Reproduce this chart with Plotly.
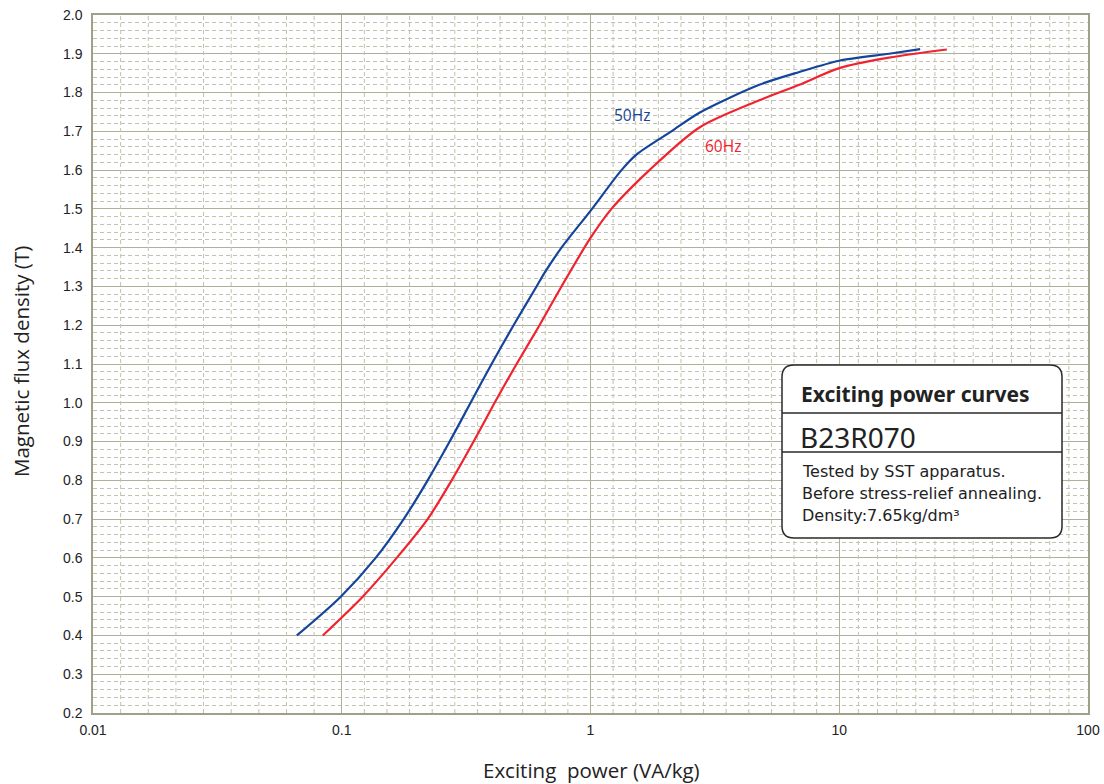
import numpy as np
import plotly.graph_objects as go

# ---- data ----
b_50 = [0.40, 0.50, 0.60, 0.70, 0.80, 0.90, 1.00, 1.10, 1.20, 1.30, 1.335, 1.40, 1.495, 1.60, 1.64, 1.70, 1.748, 1.82, 1.853, 1.882, 1.90, 1.912]
p_50 = [0.0660, 0.0991, 0.1369, 0.1774, 0.2215, 0.2715, 0.3296, 0.4003, 0.4906, 0.6069, 0.6535, 0.7646, 1.00, 1.332, 1.530, 2.115, 2.741, 4.77, 6.91, 10.0, 15.85, 21.15]

b_60 = [0.40, 0.50, 0.60, 0.70, 0.80, 0.90, 1.00, 1.10, 1.20, 1.30, 1.425, 1.50, 1.60, 1.71, 1.78, 1.82, 1.863, 1.89, 1.911]
p_60 = [0.0839, 0.1214, 0.1663, 0.2215, 0.2766, 0.3389, 0.4116, 0.5045, 0.6239, 0.7646, 1.00, 1.214, 1.726, 2.741, 4.77, 6.91, 10.0, 15.85, 27.07]

x_tick_vals = [0.01, 0.1, 1, 10, 100]
x_tick_text = ["0.01", "0.1", "1", "10", "100"]
y_tick_vals = [0.2, 0.3, 0.4, 0.5, 0.6, 0.7, 0.8, 0.9, 1.0, 1.1, 1.2, 1.3, 1.4, 1.5, 1.6, 1.7, 1.8, 1.9, 2.0]
y_tick_text = [f"{v:.1f}" for v in y_tick_vals]

# decorative subdivisions of each decade (as drawn on the original sheet)
decade_starts = [-2, -1, 0, 1]
decade_divs = [9, 11, 11, 13]

MAJOR = "#b0b098"
MINOR = "#c2c2ae"
BLUE = "#15459b"
RED = "#f0232f"

fig = go.Figure()

# minor vertical dashed grid lines
gx, gy = [], []
for s, n in zip(decade_starts, decade_divs):
    for k in range(1, n):
        xv = 10 ** (s + k / n)
        gx += [xv, xv, None]
        gy += [0.2, 2.0, None]
fig.add_trace(go.Scatter(x=gx, y=gy, mode="lines", hoverinfo="skip", showlegend=False,
                         line=dict(color=MINOR, width=1, dash="4px,3px")))

fig.add_trace(go.Scatter(x=p_50, y=b_50, mode="lines", name="50Hz", showlegend=False,
                         line=dict(color=BLUE, width=2.2, shape="spline", smoothing=0.8)))
fig.add_trace(go.Scatter(x=p_60, y=b_60, mode="lines", name="60Hz", showlegend=False,
                         line=dict(color=RED, width=2.2, shape="spline", smoothing=0.8)))

W, H = 1104, 784
L, R, T, B = 93, 16, 15, 71
pw, ph = W - L - R, H - T - B


def px(x):
    return (x - L) / pw


def py(y):
    return (H - B - y) / ph


fig.update_layout(
    width=W, height=H,
    margin=dict(l=L, r=R, t=T, b=B, autoexpand=False),
    paper_bgcolor="white", plot_bgcolor="white",
    showlegend=False,
    font=dict(family="Liberation Sans, Arial", size=14, color="#222"),
    xaxis=dict(type="log", range=[-2, 2], tickvals=x_tick_vals, ticktext=x_tick_text,
               showgrid=True, gridcolor=MAJOR, gridwidth=1.3, zeroline=False,
               showline=True, linecolor="#a0a088", linewidth=1.5, mirror=True, automargin=False,
               ticklabeloverflow="allow",
               ticks="", ticklabelstandoff=3, tickfont=dict(size=14, color="#222")),
    yaxis=dict(range=[0.2, 2.0], tickvals=y_tick_vals, ticktext=y_tick_text,
               showgrid=True, gridcolor=MAJOR, gridwidth=1.3, zeroline=False,
               showline=True, linecolor="#a0a088", linewidth=1.5, mirror=True, automargin=False,
               ticklabeloverflow="allow",
               ticks="", ticklabelstandoff=6, tickfont=dict(size=14, color="#222"),
               minor=dict(dtick=0.02, tick0=0.2, showgrid=True, gridcolor=MINOR,
                          griddash="4px,3px", gridwidth=1)),
)

TITLE_FONT = "Open Sans, Noto Sans, sans-serif"
annots = [
    dict(x=px(21), y=py(362), text="Magnetic flux density (T)", textangle=-90,
         font=dict(family=TITLE_FONT, size=20.5, color="#222")),
    dict(x=px(591), y=py(770), text="Exciting\u00a0 power (VA/kg)",
         font=dict(family=TITLE_FONT, size=20.5, color="#222")),
    dict(x=px(632), y=py(115), text="50Hz", font=dict(family=TITLE_FONT, size=15.5, color=BLUE)),
    dict(x=px(723), y=py(146), text="60Hz", font=dict(family=TITLE_FONT, size=15.5, color=RED)),
]
for a in annots:
    a.update(xref="paper", yref="paper", showarrow=False, xanchor="center", yanchor="middle")
    fig.add_annotation(**a)

# info box
bx0, bx1, by0, by1 = 782, 1062, 365, 538
r = 12
rx, ry = r / pw, r / ph
X0, X1, Y0, Y1 = px(bx0), px(bx1), py(by1), py(by0)
path = (f"M {X0+rx},{Y1} L {X1-rx},{Y1} Q {X1},{Y1} {X1},{Y1-ry} "
        f"L {X1},{Y0+ry} Q {X1},{Y0} {X1-rx},{Y0} L {X0+rx},{Y0} Q {X0},{Y0} {X0},{Y0+ry} "
        f"L {X0},{Y1-ry} Q {X0},{Y1} {X0+rx},{Y1} Z")
fig.add_shape(type="path", path=path, xref="paper", yref="paper",
              line=dict(color="#2a2a2a", width=1.5), fillcolor="white", layer="above")
for yy in (413, 452):
    fig.add_shape(type="line", xref="paper", yref="paper", x0=X0, x1=X1, y0=py(yy), y1=py(yy),
                  line=dict(color="#2a2a2a", width=1.5), layer="above")

box_texts = [
    (799, 394, "<b>Exciting power curves</b>", 21, "Noto Sans, Open Sans, sans-serif"),
    (798, 437, "B23R070", 28, "Noto Sans, Open Sans, sans-serif"),
    (800, 471, "Tested by SST apparatus.", 16, "DejaVu Sans, sans-serif"),
    (800, 493, "Before stress-relief annealing.", 16, "DejaVu Sans, sans-serif"),
    (800, 515, "Density:7.65kg/dm³", 16, "DejaVu Sans, sans-serif"),
]
for x, y, t, s, f in box_texts:
    fig.add_annotation(x=px(x), y=py(y), xref="paper", yref="paper", text=t, showarrow=False,
                       xanchor="left", yanchor="middle",
                       font=dict(family=f, size=s, color="#222"))

fig.write_html("out.html", config={"displayModeBar": False},
               post_script="document.body.style.margin='0';document.body.style.overflow='hidden';")
